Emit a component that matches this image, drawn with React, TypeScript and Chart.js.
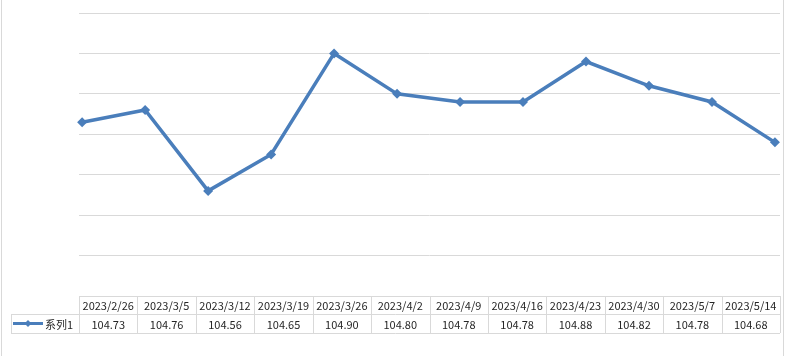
import React, { useEffect, useRef } from "react";
import { Chart, registerables } from "chart.js";

Chart.register(...registerables);

const categories = [
  "2023/2/26", "2023/3/5", "2023/3/12", "2023/3/19", "2023/3/26", "2023/4/2",
  "2023/4/9", "2023/4/16", "2023/4/23", "2023/4/30", "2023/5/7", "2023/5/14",
];
const seriesName = "系列1";
const values = [104.73, 104.76, 104.56, 104.65, 104.9, 104.8, 104.78, 104.78, 104.88, 104.82, 104.78, 104.68];
const yMin = 104.3;
const yMax = 105.0;
const yStep = 0.1;

const LINE_COLOR = "#4a7ebb";
const GRID_COLOR = "#d9d9d9";
const TEXT_COLOR = "#262626";
const FONT = "11px 'Noto Sans CJK SC', 'DejaVu Sans', sans-serif";

const tablePlugin = {
  id: "dataTable",
  afterDraw(chart: any) {
    const ctx = chart.ctx as CanvasRenderingContext2D;
    const area = chart.chartArea;
    const left = area.left;
    const right = area.right;
    const top = area.bottom;
    const rowH1 = 18;
    const rowH2 = 19;
    const n = categories.length;
    const colW = (right - left) / n;
    const legendLeft = 11;
    ctx.save();
    ctx.strokeStyle = GRID_COLOR;
    ctx.lineWidth = 1;
    const px = (v: number) => Math.round(v) + 0.5;
    ctx.beginPath();
    // header row top
    ctx.moveTo(left, px(top));
    ctx.lineTo(right, px(top));
    // middle line
    ctx.moveTo(legendLeft, px(top + rowH1));
    ctx.lineTo(right, px(top + rowH1));
    // bottom
    ctx.moveTo(legendLeft, px(top + rowH1 + rowH2));
    ctx.lineTo(right, px(top + rowH1 + rowH2));
    // verticals
    for (let i = 0; i <= n; i++) {
      const x = px(left + i * colW);
      ctx.moveTo(x, top);
      ctx.lineTo(x, top + rowH1 + rowH2);
    }
    ctx.moveTo(px(legendLeft), top + rowH1);
    ctx.lineTo(px(legendLeft), top + rowH1 + rowH2);
    // chart outer border left/right
    ctx.moveTo(1.5, 0);
    ctx.lineTo(1.5, chart.height);
    ctx.moveTo(783.5, 0);
    ctx.lineTo(783.5, chart.height);
    ctx.stroke();

    ctx.fillStyle = TEXT_COLOR;
    ctx.font = FONT;
    ctx.textAlign = "center";
    ctx.textBaseline = "middle";
    for (let i = 0; i < n; i++) {
      const cx = left + (i + 0.5) * colW;
      ctx.fillText(categories[i], cx, top + rowH1 / 2 + 1);
      ctx.fillText(values[i].toFixed(2), cx, top + rowH1 + rowH2 / 2 + 1);
    }
    // legend key
    const ly = top + rowH1 + rowH2 / 2;
    ctx.strokeStyle = LINE_COLOR;
    ctx.lineWidth = 3;
    ctx.beginPath();
    ctx.moveTo(13, ly);
    ctx.lineTo(43, ly);
    ctx.stroke();
    ctx.fillStyle = LINE_COLOR;
    ctx.beginPath();
    ctx.moveTo(28, ly - 3.5);
    ctx.lineTo(31.5, ly);
    ctx.lineTo(28, ly + 3.5);
    ctx.lineTo(24.5, ly);
    ctx.closePath();
    ctx.fill();
    ctx.fillStyle = TEXT_COLOR;
    ctx.textAlign = "left";
    ctx.fillText(seriesName, 45, ly + 1);
    ctx.restore();
  },
};

export default function App() {
  const ref = useRef<HTMLCanvasElement>(null);
  useEffect(() => {
    document.body.style.margin = "0";
    const canvas = ref.current!;
    const chart = new Chart(canvas, {
      type: "line",
      data: {
        datasets: [
          {
            label: seriesName,
            data: values.map((v, i) => ({ x: i, y: v })),
            borderColor: LINE_COLOR,
            backgroundColor: LINE_COLOR,
            borderWidth: 3.5,
            pointStyle: "rectRot",
            pointRadius: 5,
            pointBorderWidth: 0,
            pointBackgroundColor: LINE_COLOR,
            tension: 0,
            clip: false as any,
          },
        ],
      },
      options: {
        animation: false,
        responsive: false,
        layout: { padding: { left: 79, right: 3, top: 13, bottom: 60 } },
        plugins: { legend: { display: false }, tooltip: { enabled: false } },
        scales: {
          x: { type: "linear", min: -0.05, max: 11.08, display: false },
          y: {
            min: yMin,
            max: yMax,
            ticks: { display: false, stepSize: yStep },
            grid: { color: GRID_COLOR, drawTicks: false, lineWidth: 1 },
            border: { display: false },
          },
        },
      },
      plugins: [tablePlugin],
    });
    return () => chart.destroy();
  }, []);
  return <canvas ref={ref} width={785} height={356} style={{ display: "block", width: 785, height: 356 }} />;
}
